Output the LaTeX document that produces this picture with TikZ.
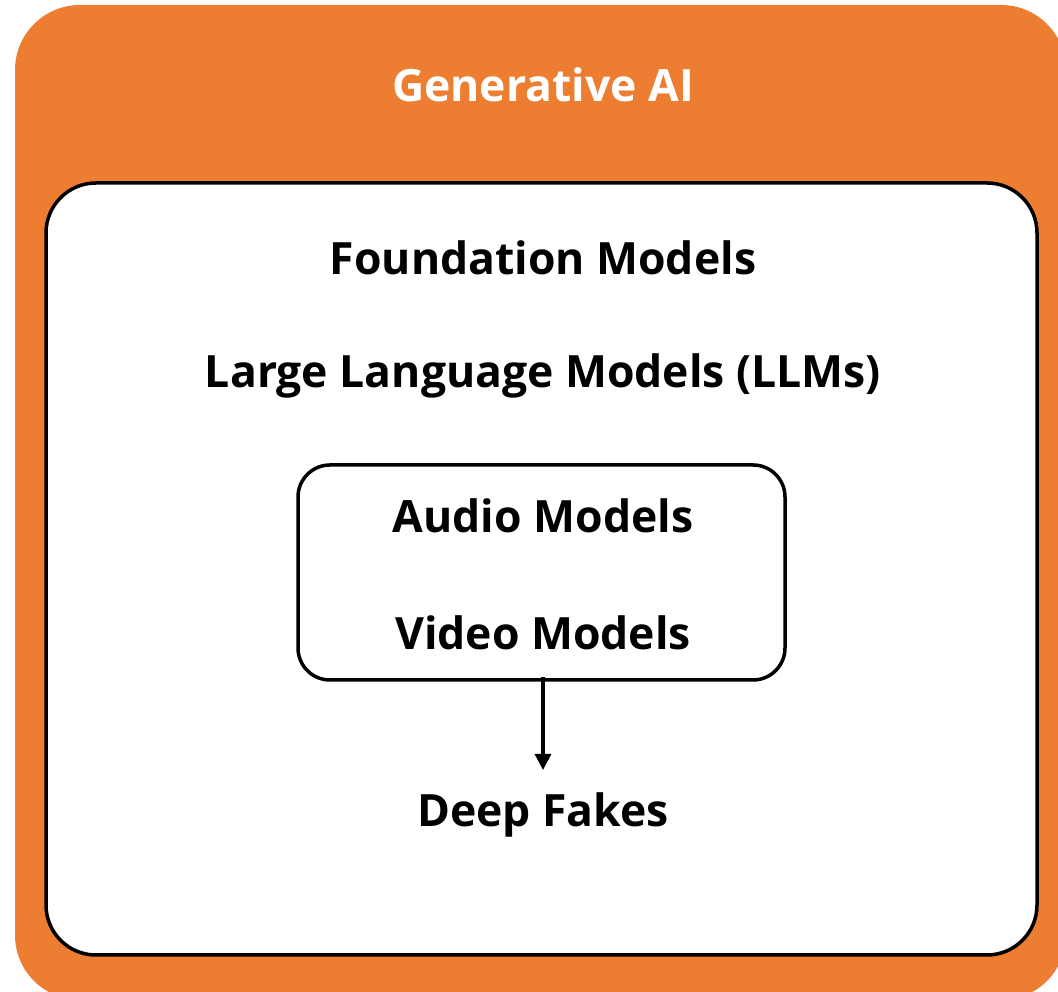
\documentclass[tikz,border=0pt]{standalone}
\usepackage{fontspec}
\setmainfont{Open Sans}
\usetikzlibrary{arrows.meta}
\definecolor{genorange}{HTML}{ED7D31}
\tikzset{
  label text/.style={font=\bfseries\fontsize{44.5}{52}\selectfont, anchor=base, inner sep=0pt},
  panel/.style={draw=black, line width=3.5pt, fill=white},
}
\begin{document}
\begin{tikzpicture}[x=1pt,y=1pt]
  \useasboundingbox (0,0) rectangle (1058,992);
  \clip (0,0) rectangle (1058,992);
  % outer orange frame, running past the right and bottom edges
  \fill[genorange, rounded corners=65pt] (15,-8) rectangle (1066,987);
  % white inner panel
  \draw[panel, rounded corners=50pt] (46,37) rectangle (1037,809);
  % grouping box for audio and video models
  \draw[panel, rounded corners=32pt] (298,312) rectangle (785,527);

  \node[label text, text=white] (gen) at (543,890) {Generative AI};
  \node[label text] (found) at (543,717) {Foundation Models};
  \node[label text] (llm) at (543,604) {Large Language Models (LLMs)};
  \node[label text] (audio) at (543,459) {Audio Models};
  \node[label text] (video) at (543,342) {Video Models};
  \node[label text] (fakes) at (543,165) {Deep Fakes};

  \coordinate (boxbottom) at (543,315);
  \coordinate (fakestop) at (543,222);
  \draw[line width=3.2pt, -{Triangle[length=16pt,width=16pt]}] (boxbottom) -- (fakestop);
\end{tikzpicture}
\end{document}
